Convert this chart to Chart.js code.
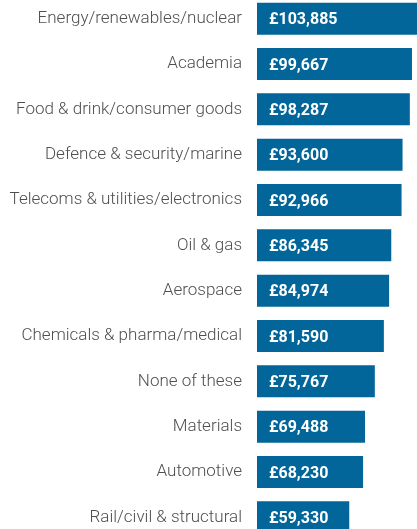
<!DOCTYPE html>
<html>
<head>
<meta charset="utf-8">
<script src="https://cdn.jsdelivr.net/npm/chart.js@4/dist/chart.umd.min.js"></script>
<style>
  html, body { margin: 0; padding: 0; background: #fff; overflow: hidden; }
  body { width: 417px; height: 529px; position: relative; }
  #salaryChart { position: absolute; left: 0; top: -4px; }
</style>
</head>
<body>
<canvas id="salaryChart" width="417" height="544"></canvas>
<script>
'use strict';

// sectors, top to bottom
var sectors = [
    'Energy/renewables/nuclear',
    'Academia',
    'Food & drink/consumer goods',
    'Defence & security/marine',
    'Telecoms & utilities/electronics',
    'Oil & gas',
    'Aerospace',
    'Chemicals & pharma/medical',
    'None of these',
    'Materials',
    'Automotive',
    'Rail/civil & structural'
];

// mean salary per sector (GBP)
var salaries = [103885, 99667, 98287, 93600, 92966, 86345, 84974, 81590, 75767, 69488, 68230, 59330];

var barBlue = '#02669a';

function formatPounds(v) {
    return '£' + v.toLocaleString('en-GB');
}

// writes the salary inside each bar, near its base
var valueLabels = {
    id: 'valueLabels',
    afterDatasetsDraw: function (chart) {
        var ctx = chart.ctx;
        var meta = chart.getDatasetMeta(0);
        ctx.save();
        ctx.fillStyle = '#ffffff';
        ctx.font = 'bold 16px Roboto';
        ctx.textAlign = 'left';
        ctx.textBaseline = 'middle';
        meta.data.forEach(function (bar, i) {
            ctx.fillText(formatPounds(salaries[i]), bar.base + 12, bar.y + 1.5);
        });
        ctx.restore();
    }
};

var ctx = document.getElementById('salaryChart').getContext('2d');
new Chart(ctx, {
    type: 'bar',
    data: {
        labels: sectors,
        datasets: [{
            data: salaries,
            backgroundColor: barBlue,
            borderWidth: 0,
            barPercentage: 0.706,
            categoryPercentage: 1.0
        }]
    },
    options: {
        indexAxis: 'y',
        responsive: false,
        animation: false,
        layout: { padding: 0, autoPadding: false },
        plugins: {
            legend: { display: false },
            tooltip: { enabled: false }
        },
        scales: {
            x: {
                display: false,
                min: 0,
                max: 102900
            },
            y: {
                grid: { display: false, drawTicks: false },
                border: { display: false },
                ticks: {
                    color: '#4f4f4f',
                    padding: 15,
                    font: { family: 'Roboto', size: 17, weight: '300' }
                },
                afterFit: function (scale) {
                    // fixed label column, no extra room above/below the bars
                    scale.width = 257;
                    scale.paddingTop = 0;
                    scale.paddingBottom = 0;
                }
            }
        }
    },
    plugins: [valueLabels]
});
</script>
</body>
</html>
